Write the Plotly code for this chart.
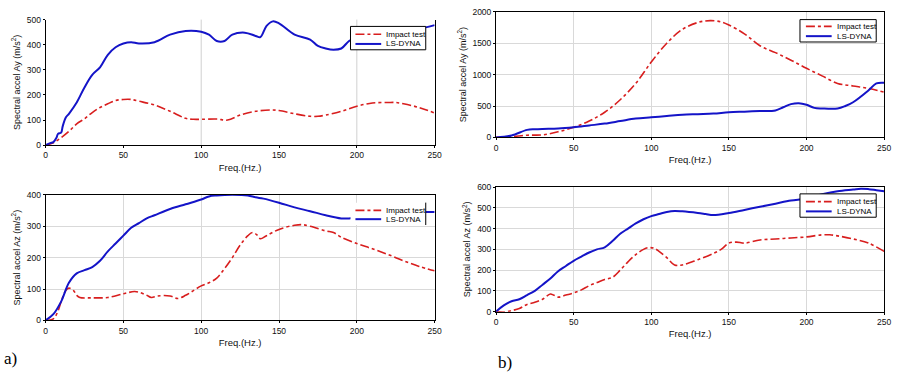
import plotly.graph_objects as go

# ---- data ----
# (a) Ay
a_ay_test_f = [0, 5, 10, 15, 20, 25, 30, 35, 40, 45, 50, 55, 60, 70, 80, 90, 95, 100, 110, 117, 125, 135, 145, 150, 160, 170, 175, 180, 190, 200, 210, 220, 225, 230, 240, 250]
a_ay_test_v = [0, 10, 30, 55, 85, 105, 130, 150, 165, 178, 182, 182, 175, 160, 135, 107, 103, 103, 104, 100, 120, 135, 140, 138, 125, 115, 115, 120, 135, 155, 168, 170, 170, 165, 150, 128]
a_ay_dyna_f = [0, 3, 5, 7, 8, 10, 11, 13, 15, 20, 25, 30, 35, 40, 45, 50, 55, 60, 70, 80, 90, 100, 105, 110, 115, 120, 128, 135, 138, 142, 146, 150, 160, 170, 175, 180, 185, 190, 195, 200, 220, 240, 245, 250]
a_ay_dyna_v = [0, 8, 12, 30, 45, 50, 75, 110, 125, 170, 230, 280, 310, 360, 390, 405, 410, 405, 410, 440, 455, 452, 440, 415, 415, 440, 448, 435, 430, 475, 493, 485, 440, 420, 395, 385, 380, 385, 415, 430, 450, 465, 470, 478]

# (a) Az
a_az_test_f = [0, 5, 8, 10, 13, 15, 18, 20, 22, 30, 40, 50, 57, 60, 65, 68, 72, 80, 85, 90, 95, 100, 105, 110, 115, 120, 125, 130, 133, 136, 138, 142, 150, 160, 165, 170, 180, 185, 190, 200, 210, 220, 230, 240, 250]
a_az_test_v = [0, 5, 30, 60, 95, 103, 95, 80, 73, 72, 73, 85, 92, 90, 80, 73, 78, 78, 70, 80, 95, 110, 120, 135, 165, 200, 240, 270, 280, 272, 260, 270, 290, 303, 305, 300, 285, 280, 265, 245, 228, 210, 190, 172, 158]
a_az_dyna_f = [0, 5, 10, 15, 20, 25, 30, 35, 40, 45, 50, 55, 60, 65, 70, 80, 90, 100, 105, 110, 120, 130, 135, 140, 150, 160, 170, 180, 190, 195, 200, 220, 240, 250]
a_az_dyna_v = [0, 20, 60, 120, 150, 160, 170, 190, 220, 245, 270, 295, 310, 325, 335, 355, 370, 385, 395, 398, 400, 398, 392, 388, 375, 360, 348, 335, 325, 325, 330, 340, 345, 345]

# (b) Ay
b_ay_test_f = [0, 10, 20, 30, 40, 50, 60, 70, 80, 90, 100, 110, 120, 130, 138, 145, 150, 160, 170, 180, 190, 200, 210, 220, 230, 240, 250]
b_ay_test_v = [0, 10, 35, 40, 90, 160, 260, 400, 600, 860, 1200, 1500, 1720, 1830, 1860, 1840, 1790, 1650, 1460, 1350, 1230, 1100, 980, 860, 820, 780, 720]
b_ay_dyna_f = [0, 10, 20, 25, 30, 40, 50, 60, 70, 80, 90, 100, 110, 120, 130, 140, 150, 160, 170, 180, 185, 190, 195, 200, 205, 210, 220, 225, 230, 240, 245, 250]
b_ay_dyna_v = [0, 30, 120, 130, 135, 140, 160, 190, 220, 260, 300, 320, 340, 360, 370, 380, 400, 410, 420, 430, 480, 530, 545, 520, 470, 460, 460, 500, 560, 750, 860, 870]

# (b) Az
b_az_test_f = [0, 5, 10, 15, 20, 25, 30, 35, 37, 40, 45, 50, 55, 60, 65, 70, 75, 80, 85, 90, 95, 98, 102, 105, 110, 115, 120, 130, 140, 145, 150, 155, 160, 170, 180, 190, 200, 210, 215, 220, 230, 240, 250]
b_az_test_v = [0, -2, 5, 15, 35, 45, 60, 85, 80, 70, 80, 90, 105, 125, 140, 155, 165, 200, 240, 275, 300, 308, 305, 290, 260, 225, 225, 250, 280, 300, 330, 335, 330, 345, 350, 355, 360, 370, 370, 365, 350, 330, 290]
b_az_dyna_f = [0, 5, 10, 15, 20, 25, 30, 35, 40, 45, 50, 55, 60, 65, 70, 75, 80, 85, 90, 95, 100, 105, 110, 115, 120, 130, 135, 140, 150, 160, 170, 180, 190, 200, 210, 220, 230, 235, 240, 245, 250]
b_az_dyna_v = [0, 30, 50, 60, 80, 100, 130, 160, 195, 220, 245, 265, 285, 300, 310, 340, 375, 400, 425, 445, 460, 470, 480, 485, 483, 475, 470, 465, 475, 490, 505, 520, 535, 545, 565, 580, 588, 592, 590, 585, 580]

x_ticks = [0, 50, 100, 150, 200, 250]
a_ay_grid_x = [100, 200]
names = ["Impact test", "LS-DYNA"]

RED = "#d81e1e"
BLUE = "#1414c8"
FONT = "Liberation Sans, Arial, sans-serif"
W, H = 904, 378


def px(x):
    return x / W


def py(y):
    return 1 - y / H


fig = go.Figure()

panels = [
    (a_ay_test_f, a_ay_test_v, a_ay_dyna_f, a_ay_dyna_v, "x", "y",
     [44, 437], [144, 15], [0, 500], "Spectral accel Ay (m/s<sup>2</sup>)", 100, False, False),
    (b_ay_test_f, b_ay_test_v, b_ay_dyna_f, b_ay_dyna_v, "x2", "y2",
     [499, 891], [136, 7], [0, 2000], "Spectral accel Ay (m/s<sup>2</sup>)", 500, True, True),
    (a_az_test_f, a_az_test_v, a_az_dyna_f, a_az_dyna_v, "x3", "y3",
     [44, 437], [324, 195], [0, 400], "Spectral accel Az (m/s<sup>2</sup>)", 100, True, True),
    (b_az_test_f, b_az_test_v, b_az_dyna_f, b_az_dyna_v, "x4", "y4",
     [499, 891], [315, 187], [0, 600], "Spectral accel Az (m/s<sup>2</sup>)", 100, True, True),
]

layout = dict(
    width=W, height=H,
    margin=dict(l=0, r=0, t=0, b=0),
    paper_bgcolor="white", plot_bgcolor="white",
    font=dict(family=FONT, size=8, color="#1a1a1a"),
    showlegend=False,
)

for (tf, tv, df, dv, xa, ya, xd, yd, yr, yt, ydt, grid, top) in panels:
    fig.add_trace(go.Scatter(x=tf, y=tv, mode="lines", name=names[0], line_shape="spline",
                             line=dict(color=RED, width=1.6, dash="dashdot"),
                             xaxis=xa, yaxis=ya))
    fig.add_trace(go.Scatter(x=df, y=dv, mode="lines", name=names[1], line_shape="spline",
                             line=dict(color=BLUE, width=2.0),
                             xaxis=xa, yaxis=ya))
    xk = "xaxis" + xa[1:]
    yk = "yaxis" + ya[1:]
    layout[xk] = dict(domain=[px(xd[0]), px(xd[1])], range=[0, 250], tickvals=x_ticks, anchor=ya,
                      showline=True, linecolor="black", linewidth=1,
                      mirror=top, ticks="outside", ticklen=2, tickcolor="black",
                      showgrid=grid, gridcolor="#d9d9d9", gridwidth=1,
                      zeroline=False, tickfont=dict(size=8.5, color="#111"),
                      title=dict(text="Freq.(Hz.)", font=dict(size=9.5, color="#111"), standoff=4))
    layout[yk] = dict(domain=[py(yd[0]), py(yd[1])], range=yr, dtick=ydt, anchor=xa,
                      showline=True, linecolor="black", linewidth=1,
                      mirror=True, ticks="outside", ticklen=2, tickcolor="black",
                      showgrid=grid, gridcolor="#d9d9d9", gridwidth=1,
                      zeroline=False, tickfont=dict(size=8.5, color="#111"),
                      title=dict(text=yt, font=dict(size=9, color="#111"), standoff=4))

fig.update_layout(**layout)

# top-left panel: only vertical grid lines at 100 and 200
for gx in a_ay_grid_x:
    fig.add_shape(type="line", xref="x", yref="y domain", x0=gx, x1=gx, y0=0, y1=1,
                  line=dict(color="#d0d0d0", width=1), layer="below")

# ---- hand-drawn legends (box px, symbol px, text x, row ys, border) ----
legends = [
    dict(box=(352, 22, 428, 46), sym=(357, 383), tx=386, rows=(30, 40), border="full"),
    dict(box=(806, 15, 883, 38), sym=(812, 838), tx=841, rows=(22, 32), border="full"),
    dict(box=(352, 203, 428, 226), sym=(357, 383), tx=386, rows=(211, 220), border="right"),
    dict(box=(806, 194, 883, 218), sym=(812, 838), tx=841, rows=(202, 212), border="full"),
]
styles = [dict(color=RED, width=1.6, dash="dashdot"), dict(color=BLUE, width=2.0)]

for lg in legends:
    x0, y0, x1, y1 = lg["box"]
    fig.add_shape(type="rect", xref="paper", yref="paper",
                  x0=px(x0), x1=px(x1), y0=py(y1), y1=py(y0),
                  fillcolor="white",
                  line=dict(color="black", width=1 if lg["border"] == "full" else 0),
                  layer="above")
    if lg["border"] == "right":
        fig.add_shape(type="line", xref="paper", yref="paper",
                      x0=px(x1), x1=px(x1), y0=py(y1), y1=py(y0),
                      line=dict(color="black", width=1), layer="above")
    for name, st, ry in zip(names, styles, lg["rows"]):
        fig.add_shape(type="line", xref="paper", yref="paper",
                      x0=px(lg["sym"][0]), x1=px(lg["sym"][1]), y0=py(ry), y1=py(ry),
                      line=st, layer="above")
        fig.add_annotation(text=name, x=px(lg["tx"]), y=py(ry), xref="paper", yref="paper",
                           xanchor="left", yanchor="middle", showarrow=False,
                           font=dict(size=8, family=FONT, color="black"))

fig.add_annotation(text="a)", x=0.0, y=py(363), xref="paper", yref="paper",
                   xanchor="left", yanchor="middle", showarrow=False,
                   font=dict(family="Liberation Serif, Times New Roman, serif", size=17, color="black"))
fig.add_annotation(text="b)", x=px(499), y=py(367), xref="paper", yref="paper",
                   xanchor="left", yanchor="middle", showarrow=False,
                   font=dict(family="Liberation Serif, Times New Roman, serif", size=17, color="black"))

fig.write_html("out.html")
